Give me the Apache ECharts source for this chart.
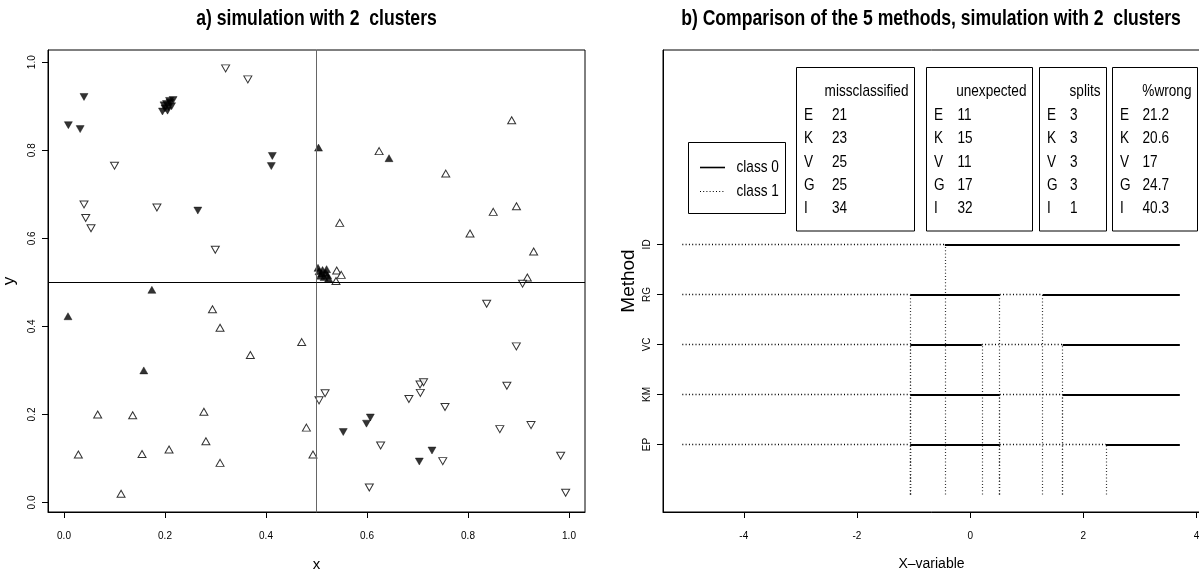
<!DOCTYPE html>
<html>
<head>
<meta charset="utf-8">
<script src="https://cdn.jsdelivr.net/npm/echarts@6/dist/echarts.min.js"></script>
<style>
  html, body { margin: 0; padding: 0; background: #fff; }
  #chart { width: 1199px; height: 578px; }
</style>
</head>
<body>
<div id="chart"></div>
<script>
// ---- panel a) simulated points (x, y), one list per marker ----
var openUp = [
  [0.8865, 0.868], [0.624, 0.798], [0.756, 0.747], [0.896, 0.673], [0.850, 0.660],
  [0.804, 0.611], [0.546, 0.635], [0.930, 0.570], [0.540, 0.527], [0.549, 0.517],
  [0.5386, 0.503], [0.9175, 0.511],
  [0.294, 0.439], [0.309, 0.397], [0.369, 0.335], [0.0667, 0.200], [0.136, 0.198],
  [0.277, 0.206], [0.0284, 0.109], [0.1545, 0.110], [0.208, 0.1205], [0.281, 0.139],
  [0.309, 0.090], [0.113, 0.020], [0.4707, 0.3643], [0.480, 0.170], [0.493, 0.109]
];
var filledUp = [
  [0.504, 0.806], [0.6436, 0.782],
  [0.505, 0.525], [0.512, 0.528], [0.518, 0.522], [0.508, 0.515], [0.515, 0.512],
  [0.520, 0.530], [0.510, 0.520], [0.522, 0.516], [0.503, 0.533], [0.524, 0.509],
  [0.174, 0.483], [0.0079, 0.423], [0.158, 0.300]
];
var openDown = [
  [0.320, 0.986], [0.364, 0.961], [0.100, 0.765], [0.0396, 0.677], [0.043, 0.646],
  [0.0535, 0.623], [0.184, 0.670], [0.2996, 0.574],
  [0.908, 0.497], [0.837, 0.4515], [0.8957, 0.3545], [0.877, 0.265], [0.705, 0.268],
  [0.712, 0.273], [0.7056, 0.249], [0.683, 0.235], [0.517, 0.248], [0.505, 0.232],
  [0.7545, 0.2167], [0.627, 0.1295], [0.863, 0.1667], [0.9248, 0.1758], [0.750, 0.094],
  [0.9835, 0.106], [0.6046, 0.034], [0.9934, 0.022]
];
var filledDown = [
  [0.0396, 0.921], [0.0086, 0.857], [0.032, 0.848],
  [0.203, 0.905], [0.210, 0.908], [0.207, 0.898], [0.200, 0.895], [0.213, 0.900],
  [0.205, 0.890], [0.209, 0.912], [0.198, 0.902], [0.195, 0.888], [0.216, 0.914],
  [0.4125, 0.787], [0.4105, 0.764], [0.265, 0.663],
  [0.6066, 0.193], [0.599, 0.179], [0.553, 0.160], [0.7287, 0.118], [0.7036, 0.093]
];
var cutX = 0.5;
var cutY = 0.5;
var ticksA = [0, 0.2, 0.4, 0.6, 0.8, 1.0];

// ---- panel b) split points found by each method ----
var methods = ['EP', 'KM', 'VC', 'RG', 'ID'];
var splitPoints = [
  [-1.058, 0.522, 2.399],   // EP
  [-1.058, 0.522, 1.633],   // KM
  [-1.058, 0.205, 1.633],   // VC
  [-1.058, 0.522, 1.280],   // RG
  [-0.448]                  // ID
];
var xFrom = -5.086;
var xTo = 3.704;
var ticksB = [-4, -2, 0, 2, 4];

// summary tables
var rowKeys = ['E', 'K', 'V', 'G', 'I'];
var missclassified = [21, 23, 25, 25, 34];
var unexpected = [11, 15, 11, 17, 32];
var splitCount = [3, 3, 3, 3, 1];
var pctWrong = [21.2, 20.6, 17, 24.7, 40.3];

var FONT = '"Liberation Sans", Arial, sans-serif';
var SQUEEZE = 0.8;   // the original text is condensed

// build class segments: class 1 (dotted) first, then alternating
var solidSegs = [], dottedSegs = [], vertSegs = [];
methods.forEach(function (m, i) {
  var y = i + 1;
  var b = [xFrom].concat(splitPoints[i], [xTo]);
  for (var k = 0; k < b.length - 1; k++) {
    var seg = { coords: [[b[k], y], [b[k + 1], y]] };
    if (k % 2 === 0) dottedSegs.push(seg); else solidSegs.push(seg);
  }
  splitPoints[i].forEach(function (s) {
    vertSegs.push({ coords: [[s, 0], [s, y]] });
  });
});

function scatter(data, filled, down) {
  return {
    type: 'scatter',
    xAxisIndex: 0,
    yAxisIndex: 0,
    data: data,
    symbol: 'triangle',
    symbolSize: [8, 7],
    symbolRotate: down ? 180 : 0,
    itemStyle: filled
      ? { color: '#000', borderColor: '#000', borderWidth: 0.5 }
      : { color: '#fff', borderColor: '#000', borderWidth: 1 },
    silent: true
  };
}

// condensed text drawn as a graphic element
function label(x, y, text, size, align, bold) {
  return {
    type: 'text', x: x, y: y, scaleX: SQUEEZE,
    style: { x: 0, y: 0, text: text, fontFamily: FONT, fontSize: size,
      fontWeight: bold ? 'bold' : 'normal', fill: '#000',
      align: align || 'left', verticalAlign: 'middle' }
  };
}

var axisText = { color: '#000', fontFamily: FONT, fontSize: 10 };

var graphics = [
  label(316.5, 19, 'a) simulation with 2  clusters', 22, 'center', true),
  label(931, 19, 'b) Comparison of the 5 methods, simulation with 2  clusters', 22, 'center', true),
  // line legend
  { type: 'rect', shape: { x: 688.5, y: 142.5, width: 97, height: 71 },
    style: { fill: '#fff', stroke: '#000', lineWidth: 1 } },
  { type: 'line', shape: { x1: 700, y1: 167.5, x2: 725, y2: 167.5 },
    style: { stroke: '#000', lineWidth: 1.6 } },
  { type: 'line', shape: { x1: 700, y1: 191.5, x2: 725, y2: 191.5 },
    style: { stroke: '#000', lineWidth: 1, lineDash: [1, 2.2] } },
  label(736.5, 167.5, 'class 0', 17),
  label(736.5, 191.5, 'class 1', 17)
];

var tables = [
  { title: 'missclassified', values: missclassified, x: 796.5, w: 118, numX: 35.5 },
  { title: 'unexpected', values: unexpected, x: 926.5, w: 106, numX: 31 },
  { title: 'splits', values: splitCount, x: 1039.5, w: 67, numX: 30.5 },
  { title: '%wrong', values: pctWrong, x: 1112.5, w: 85, numX: 30 }
];
tables.forEach(function (t) {
  graphics.push({ type: 'rect', shape: { x: t.x, y: 67.5, width: t.w, height: 163.5 },
    style: { fill: '#fff', stroke: '#000', lineWidth: 1 } });
  graphics.push(label(t.x + t.w - 6, 91.7, t.title, 17, 'right'));
  rowKeys.forEach(function (key, r) {
    var ry = 115.1 + r * 23.4;
    graphics.push(label(t.x + 7.5, ry, key, 17));
    graphics.push(label(t.x + t.numX, ry, String(t.values[r]), 17));
  });
});

var chart = echarts.init(document.getElementById('chart'));
chart.setOption({
  animation: false,
  backgroundColor: '#fff',
  grid: [
    { left: 48, top: 50, width: 537, height: 462, show: true, borderColor: '#000', borderWidth: 1,
      outerBoundsMode: 'none' },
    { left: 663, top: 50, width: 537, height: 462, show: true, borderColor: '#000', borderWidth: 1,
      outerBoundsMode: 'none' }
  ],
  xAxis: [
    {
      type: 'value', gridIndex: 0, min: -0.0317, max: 1.0317,
      name: 'x', nameLocation: 'middle', nameGap: 45,
      nameTextStyle: { color: '#000', fontFamily: FONT, fontSize: 15 },
      axisLine: { show: true, onZero: false, lineStyle: { color: '#000' } },
      axisTick: { show: true, length: 6, customValues: ticksA, lineStyle: { color: '#000' } },
      axisLabel: Object.assign({ margin: 19, customValues: ticksA,
        formatter: function (v) { return v.toFixed(1); } }, axisText),
      splitLine: { show: false }
    },
    {
      type: 'value', gridIndex: 1, min: -5.427, max: 4.06,
      name: 'X\u2013variable', nameLocation: 'middle', nameGap: 45,
      nameTextStyle: { color: '#000', fontFamily: FONT, fontSize: 14 },
      axisLine: { show: true, onZero: false, lineStyle: { color: '#000' } },
      axisTick: { show: true, length: 6, customValues: ticksB, lineStyle: { color: '#000' } },
      axisLabel: Object.assign({ margin: 19, customValues: ticksB }, axisText),
      splitLine: { show: false }
    }
  ],
  yAxis: [
    {
      type: 'value', gridIndex: 0, min: -0.0216, max: 1.0277,
      name: 'y', nameLocation: 'middle', nameGap: 30,
      nameTextStyle: { color: '#000', fontFamily: FONT, fontSize: 17 },
      axisLine: { show: true, onZero: false, lineStyle: { color: '#000' } },
      axisTick: { show: true, length: 6, customValues: ticksA, lineStyle: { color: '#000' } },
      axisLabel: Object.assign({ margin: 11, rotate: 90, customValues: ticksA,
        formatter: function (v) { return v.toFixed(1); } }, axisText),
      splitLine: { show: false }
    },
    {
      type: 'value', gridIndex: 1, min: -0.35, max: 8.886,
      name: 'Method', nameLocation: 'middle', nameGap: 25,
      nameTextStyle: { color: '#000', fontFamily: FONT, fontSize: 19 },
      axisLine: { show: true, onZero: false, lineStyle: { color: '#000' } },
      axisTick: { show: true, length: 6, customValues: [1, 2, 3, 4, 5], lineStyle: { color: '#000' } },
      axisLabel: Object.assign({ margin: 11, rotate: 90, customValues: [1, 2, 3, 4, 5],
        formatter: function (v) { return methods[Math.round(v) - 1]; } }, axisText),
      splitLine: { show: false }
    }
  ],
  graphic: graphics,
  series: [
    {
      type: 'scatter', xAxisIndex: 0, yAxisIndex: 0, data: [], silent: true,
      markLine: {
        silent: true, symbol: 'none', label: { show: false },
        data: [
          { xAxis: cutX, lineStyle: { color: '#666', width: 1, type: 'solid' } },
          { yAxis: cutY, lineStyle: { color: '#000', width: 1, type: 'solid' } }
        ]
      }
    },
    scatter(openUp, false, false),
    scatter(openDown, false, true),
    scatter(filledUp, true, false),
    scatter(filledDown, true, true),
    {
      type: 'lines', coordinateSystem: 'cartesian2d', xAxisIndex: 1, yAxisIndex: 1,
      data: vertSegs, silent: true,
      lineStyle: { color: '#333', width: 1.2, type: [1, 2.2], opacity: 1 }
    },
    {
      type: 'lines', coordinateSystem: 'cartesian2d', xAxisIndex: 1, yAxisIndex: 1,
      data: dottedSegs, silent: true,
      lineStyle: { color: '#000', width: 1.3, type: [1, 2.3], opacity: 1 }
    },
    {
      type: 'lines', coordinateSystem: 'cartesian2d', xAxisIndex: 1, yAxisIndex: 1,
      data: solidSegs, silent: true,
      lineStyle: { color: '#000', width: 1.8, type: 'solid', opacity: 1 }
    }
  ]
});
</script>
</body>
</html>
